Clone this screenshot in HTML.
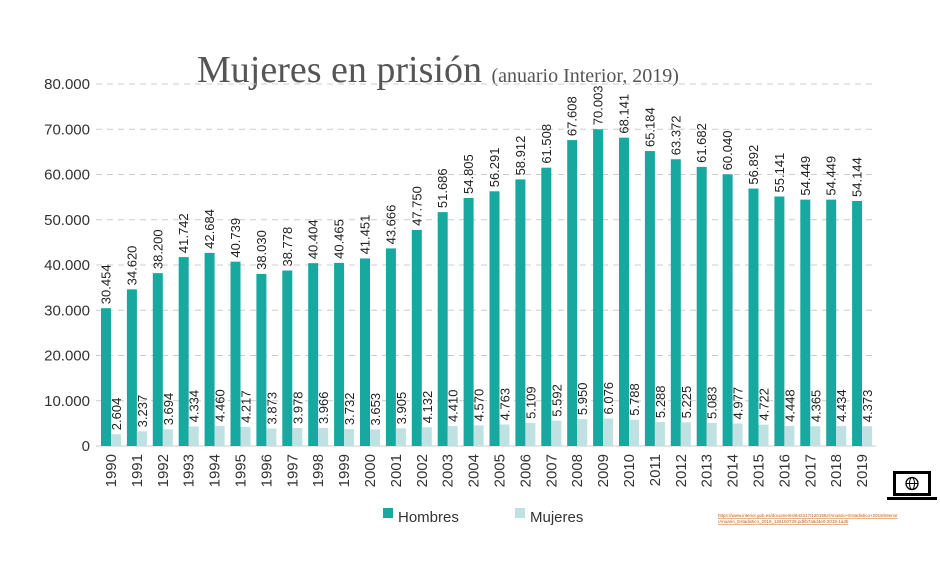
<!DOCTYPE html>
<html><head><meta charset="utf-8"><style>
body{margin:0;background:#fff;width:940px;height:558px;overflow:hidden}
</style></head><body>
<svg width="940" height="558" viewBox="0 0 940 558" xmlns="http://www.w3.org/2000/svg" font-family="Liberation Sans, sans-serif">
<text x="197" y="82" font-family="Liberation Serif, serif" font-size="38" fill="#555" font-weight="normal">Mujeres en prisión <tspan font-size="20">(anuario Interior, 2019)</tspan></text>
<g id="grid" stroke="#ccc" stroke-dasharray="6,5" stroke-width="1"></g>
<line x1="96" y1="446" x2="876" y2="446" stroke="#ddd" stroke-width="1.5"/>
<g id="ylab" font-size="15" fill="#333" text-anchor="end"></g>
<g id="bars"></g>
<rect x="383" y="508" width="10" height="10" fill="#17a89f"/>
<text x="398" y="522" font-size="15" fill="#333">Hombres</text>
<rect x="515" y="508" width="10" height="10" fill="#bfe1e2"/>
<text x="530" y="522" font-size="15" fill="#333">Mujeres</text>
<g>
<rect x="893" y="471" width="38" height="25" fill="#000"/>
<rect x="896" y="474" width="32" height="19" fill="#fff"/>
<rect x="887" y="497" width="50" height="3" fill="#000"/>
<circle cx="912" cy="483.5" r="6" fill="none" stroke="#000" stroke-width="1.3"/>
<ellipse cx="912" cy="483.5" rx="2.5" ry="6" fill="none" stroke="#000" stroke-width="1"/>
<line x1="906" y1="483.5" x2="918" y2="483.5" stroke="#000" stroke-width="1"/>
</g>
<text x="718" y="517" font-size="4.5" fill="#c05a10" text-decoration="underline">https://www.interior.gob.es/documents/642317/1201562/Anuario+Estadistico+2019/interior</text>
<text x="718" y="523" font-size="4.5" fill="#c05a10" text-decoration="underline">/Anuario_Estadistico_2019_126150729.pdf/b7a6d4e0-2019-1a3b</text>
</svg>
<script>
var H=[30454,34620,38200,41742,42684,40739,38030,38778,40404,40465,41451,43666,47750,51686,54805,56291,58912,61508,67608,70003,68141,65184,63372,61682,60040,56892,55141,54449,54449,54144];
var M=[2604,3237,3694,4334,4460,4217,3873,3978,3966,3732,3653,3905,4132,4410,4570,4763,5109,5592,5950,6076,5788,5288,5225,5083,4977,4722,4448,4365,4434,4373];
var ns="http://www.w3.org/2000/svg";
function el(t,a,txt,p){var e=document.createElementNS(ns,t);for(var k in a)e.setAttribute(k,a[k]);if(txt!=null)e.textContent=txt;document.getElementById(p).appendChild(e);}
function Y(v){return 446-v*0.004525;}
function f(v){var s=String(v);return s.length>3?s.slice(0,-3)+"."+s.slice(-3):s;}
for(var g=1;g<=8;g++){el("line",{x1:96,x2:876,y1:Y(g*10000),y2:Y(g*10000)},null,"grid");}
for(var g=0;g<=8;g++){el("text",{x:90,y:Y(g*10000)+5},g==0?"0":f(g*10000).replace(/\.000$/,"")+(g?".000":""),"ylab");}
for(var i=0;i<30;i++){
var c=111+i*25.9;
el("rect",{x:c-10,y:Y(H[i]),width:10,height:446-Y(H[i]),fill:"#17a89f"},null,"bars");
el("rect",{x:c,y:Y(M[i]),width:10,height:446-Y(M[i]),fill:"#bfe1e2"},null,"bars");
var yh=Y(H[i])-4;
el("text",{x:0,y:0,transform:"translate("+(c-0.5)+","+yh+") rotate(-90)","font-size":13,fill:"#222"},f(H[i]),"bars");
var ym=Y(M[i])-4;
el("text",{x:0,y:0,transform:"translate("+(c+10)+","+ym+") rotate(-90)","font-size":13,fill:"#222"},f(M[i]),"bars");
el("text",{x:0,y:0,transform:"translate("+(c+5)+",454) rotate(-90)","font-size":15,fill:"#333","text-anchor":"end"},String(1990+i),"bars");
}
</script>
</body></html>
